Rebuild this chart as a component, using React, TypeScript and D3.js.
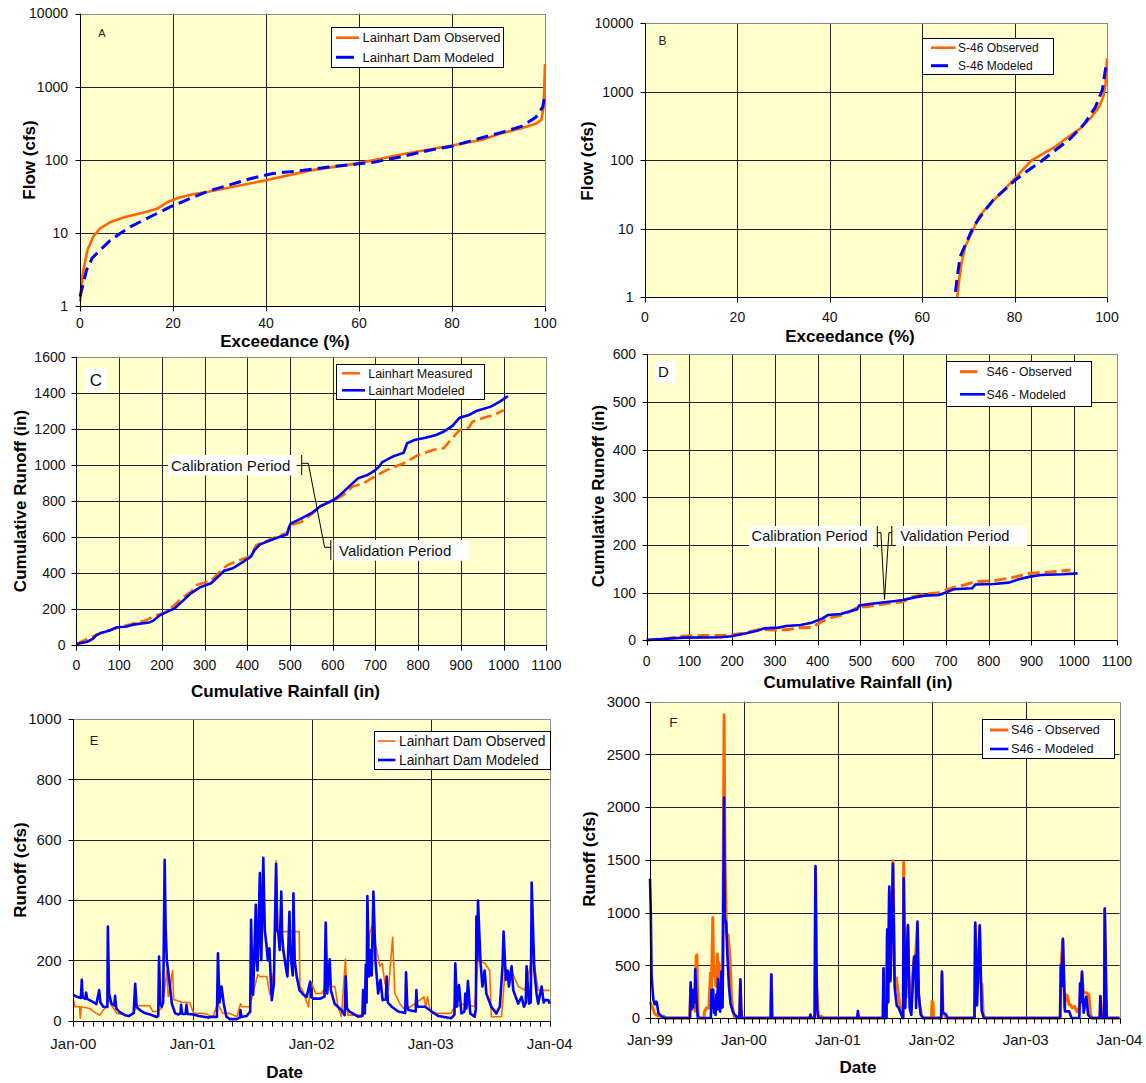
import React from 'react';
import * as d3 from 'd3';

const FONT = "'Liberation Sans', Arial, Helvetica, sans-serif";
const ORANGE = '#FF6600';
const BLUE = '#0000FF';
const BG = '#FFFFCC';
const GRID = '#222222';

type P = [number, number];

// ---------------- tick values ----------------
const exceedTicks = [0, 20, 40, 60, 80, 100];
const flowTicks = [1, 10, 100, 1000, 10000];
const rainTicks = [0, 100, 200, 300, 400, 500, 600, 700, 800, 900, 1000, 1100];
const runoffTicksC = [0, 200, 400, 600, 800, 1000, 1200, 1400, 1600];
const runoffTicksD = [0, 100, 200, 300, 400, 500, 600];
const runoffTicksE = [0, 200, 400, 600, 800, 1000];
const runoffTicksF = [0, 500, 1000, 1500, 2000, 2500, 3000];
const yearsE = [2000, 2001, 2002, 2003, 2004];
const yearsF = [1999, 2000, 2001, 2002, 2003, 2004];

// ---------------- Panel A: Lainhart Dam flow duration (exceedance %, cfs) ----------------
const aObserved: P[] = [[0,1.15],[0.6,2.8],[1.6,5.8],[2.8,8.8],[4.3,11.5],[6.6,14.1],[9.7,16.5],[13.5,18.9],[16.6,21.4],[18.9,26.5],[21.2,30.3],[24.3,33.7],[27.3,36.3],[32.7,42.4],[40,52.3],[49.6,71.6],[60,90],[69.6,120],[80,157],[86.5,188],[90.3,226],[94.9,270],[98,310],[99.2,351],[99.7,522],[100,2040]];
const aModeled: P[] = [[0,1.34],[0.4,1.7],[1.4,3.1],[2.6,4.5],[4.3,5.8],[6.5,7.9],[8.6,9.8],[10.8,12.1],[15.1,16.6],[19.4,22.6],[23.7,29.5],[28,38],[32,45],[36.6,55],[41.2,64.5],[48.1,71.6],[53.5,79.4],[60,88],[63.4,93],[68.8,109],[74.9,134],[80,153],[84.9,188],[90.3,233],[94.9,285],[98,380],[99.5,525],[100,795]];

// ---------------- Panel B: S-46 flow duration ----------------
const bObserved: P[] = [[67.6,1],[68,1.8],[68.5,3.1],[69.3,5.5],[70.7,8.6],[72.3,15],[74.6,23],[77,33],[79.4,49],[81.7,72],[83.7,100],[85.7,120],[88.8,158],[91.2,210],[94.3,293],[96.7,434],[98.3,605],[99.2,850],[99.7,1320],[100,3090]];
const bModeled: P[] = [[67.2,1.2],[67.6,2.0],[68.2,3.9],[69.5,6.2],[71.1,10.8],[73.1,16.8],[75.4,26.4],[77.8,36.9],[80.2,52],[82.5,68],[85.7,96],[88.8,140],[92,205],[95.1,340],[97.5,600],[99,1070],[99.8,2460]];

// ---------------- Panel C: Lainhart cumulative rainfall vs runoff (in) ----------------
const cMeasured: P[] = [[0,7],[60,72],[102,102],[162,137],[179,159],[213,187],[247,261],[268,297],[281,334],[315,358],[332,399],[353,445],[383,473],[408,495],[421,556],[442,575],[476,611],[493,621],[502,667],[527,685],[553,732],[570,772],[604,805],[625,833],[646,880],[672,898],[698,935],[719,963],[740,985],[766,1009],[800,1055],[834,1083],[859,1092],[876,1138],[897,1194],[919,1208],[927,1240],[961,1267],[978,1277],[1000,1304]];
const cModeled: P[] = [[0,7],[25.5,20],[38,35],[47,57],[60,70],[81,85],[94,100],[115,103],[136,116],[170,126],[179,135],[196,168],[213,187],[230,205],[247,242],[268,288],[289,321],[315,344],[332,381],[345,412],[366,427],[391,464],[408,491],[417,528],[430,560],[451,580],[476,602],[493,615],[498,658],[502,676],[527,704],[553,737],[570,769],[604,809],[617,833],[638,880],[659,926],[681,944],[698,968],[710,994],[715,1014],[740,1046],[766,1068],[774,1120],[791,1138],[817,1151],[842,1166],[859,1184],[880,1216],[897,1262],[919,1277],[936,1299],[970,1323],[991,1351],[1010,1382]];

// ---------------- Panel D: S46 cumulative rainfall vs runoff (in) ----------------
const dObserved: P[] = [[0,0.7],[45,3.5],[88,9],[130,10],[190,10],[233,16],[267,23],[292,21.7],[326,22],[360,26.5],[386,27],[411,40],[424,46],[458,53],[475,60],[497,70.6],[514,70.6],[540,74],[565,77.6],[599,81],[624,91.6],[650,97],[684,100],[710,109],[735,114],[769,123],[812,125],[855,131.5],[897,140.5],[940,142.7],[991,147.5]];
const dModeled: P[] = [[0,0.7],[36.6,2.8],[88,5.6],[173,6.3],[198,8.4],[233,14.7],[258,20],[275,25],[309,26.6],[326,30],[360,32],[386,37],[411,46],[424,53],[454,55],[480,62],[492,65],[497,73],[522,76],[556,80],[582,82.5],[599,84.6],[624,89.5],[650,93.7],[684,95],[701,100.7],[718,107],[761,109],[769,117],[812,118],[846,121],[871,128],[897,133.6],[922,137],[974,138.5],[1008,140.5]];

// ---------------- Panel E: Lainhart Dam daily runoff (month index from Jan-00, cfs) ----------------
const eObserved: P[] = [[0,70],[0.17,46],[0.61,46],[0.7,8],[0.78,46],[1.68,40],[2.35,24],[2.69,18],[3.03,35],[3.36,46],[3.6,70],[3.87,50],[4.4,24],[5.2,20],[5.6,15],[6.1,24],[6.4,49],[7.2,50],[7.7,49],[8.0,30],[8.4,30],[8.9,40],[9.2,100],[9.42,166],[9.55,80],[9.7,100],[9.98,166],[10.1,70],[10.25,68],[11.0,60],[11.7,60],[12.1,24],[13.1,24],[14.1,13],[14.6,60],[14.8,40],[15.1,24],[15.8,24],[16.5,13],[16.86,56],[17.0,46],[17.8,46],[18.2,100],[18.6,153],[18.8,146],[19.5,146],[19.8,86],[20.2,166],[20.43,530],[20.6,290],[20.9,295],[22.5,295],[22.76,295],[22.83,113],[23.1,100],[23.68,46],[23.9,125],[24.0,125],[24.4,90],[25.0,90],[25.4,113],[26.4,113],[26.7,46],[27.04,13],[27.45,203],[27.65,46],[27.7,18],[29.2,18],[29.56,166],[29.9,290],[30.23,320],[30.47,256],[30.9,180],[31.14,190],[31.41,123],[31.75,101],[32.18,276],[32.4,90],[32.92,56],[33.43,35],[34.43,56],[35.34,79],[35.5,46],[35.68,79],[35.94,35],[36.1,24],[38.1,24],[38.46,46],[39.47,56],[40.48,46],[40.81,200],[41.49,190],[42.0,166],[42.16,13],[43.17,13],[43.5,153],[44.17,166],[44.85,113],[45.5,101],[46.19,200],[46.5,180],[46.86,101],[48,100]];
const eModeled: P[] = [[0,85],[0.4,78],[0.75,75],[0.84,135],[0.92,78],[1.2,72],[1.28,93],[1.4,72],[2.0,62],[2.35,55],[2.62,101],[2.75,60],[3.03,46],[3.45,45],[3.5,312],[3.62,90],[3.87,56],[4.15,50],[4.23,82],[4.35,40],[4.7,28],[5.21,18],[5.6,15],[6.1,25],[6.25,122],[6.4,45],[6.72,35],[7.2,25],[7.73,20],[8.4,12],[8.55,15],[8.63,212],[8.75,60],[8.9,46],[9.05,60],[9.2,533],[9.3,300],[9.41,201],[9.67,130],[9.91,56],[10.25,24],[10.6,20],[10.8,25],[10.85,52],[10.95,22],[11.3,22],[11.39,52],[11.5,22],[12.09,20],[12.6,15],[13.1,13],[13.6,10],[14.1,13],[14.5,12],[14.6,223],[14.75,60],[14.95,113],[15.18,56],[15.45,13],[15.8,5],[16.46,5],[16.8,10],[16.86,35],[16.95,12],[17.47,15],[17.85,30],[17.94,334],[18.05,150],[18.14,86],[18.41,384],[18.5,200],[18.58,166],[18.81,489],[18.9,250],[18.95,200],[19.15,540],[19.3,300],[19.48,245],[19.6,200],[19.75,240],[19.99,68],[20.2,120],[20.43,520],[20.55,300],[20.66,289],[20.8,234],[20.96,428],[21.05,280],[21.16,234],[21.4,180],[21.57,146],[21.77,361],[21.85,250],[21.94,200],[22.1,150],[22.17,422],[22.3,200],[22.5,146],[22.8,100],[23.18,86],[23.5,78],[23.85,129],[23.95,78],[24.19,73],[24.86,73],[25.3,80],[25.43,325],[25.6,90],[25.87,203],[26.0,100],[26.37,56],[27.04,35],[27.38,18],[27.48,146],[27.6,40],[27.88,30],[28.72,13],[29.15,15],[29.23,101],[29.4,24],[29.5,186],[29.58,60],[29.66,413],[29.83,146],[30.0,234],[30.1,150],[30.27,428],[30.47,200],[30.74,90],[30.97,135],[31.18,68],[31.5,70],[31.58,146],[31.7,60],[32.08,46],[32.75,30],[33.45,25],[33.53,160],[33.65,50],[33.76,35],[34.5,30],[34.57,101],[34.65,50],[34.77,46],[35.44,46],[36.11,30],[36.78,15],[38.13,8],[38.45,20],[38.53,190],[38.7,46],[38.9,118],[39.14,24],[39.45,30],[39.54,90],[39.65,40],[39.81,131],[40.04,24],[40.48,13],[40.6,40],[40.65,345],[40.75,200],[40.81,398],[41.05,200],[41.25,113],[41.49,166],[41.65,90],[42.16,46],[42.66,24],[43.0,46],[43.27,180],[43.37,295],[43.6,135],[43.77,166],[43.9,113],[44.17,180],[44.34,101],[44.85,56],[45.18,79],[45.42,46],[45.6,60],[45.68,180],[45.92,56],[46.1,60],[46.19,458],[46.46,166],[46.69,90],[46.86,56],[47.2,113],[47.4,60],[47.53,68],[47.87,68],[48,56]];

// ---------------- Panel F: S46 daily runoff (month index from Jan-99, cfs) ----------------
const fObserved: P[] = [[0,150],[0.3,100],[0.6,40],[1.0,20],[1.8,16],[2.0,0],[5.1,0],[5.25,300],[5.4,100],[5.66,200],[5.8,63],[5.95,590],[6.04,598],[6.12,300],[6.2,30],[6.3,0],[6.9,0],[7.0,60],[7.24,95],[7.55,95],[7.74,425],[7.85,200],[8.04,952],[8.15,400],[8.3,486],[8.45,300],[8.64,606],[8.75,350],[8.85,520],[9.06,95],[9.3,200],[9.49,2875],[9.6,1500],[9.8,800],[10.0,788],[10.25,550],[10.45,171],[10.65,63],[10.85,0],[11.45,0],[11.57,350],[11.7,0],[15.45,0],[15.53,400],[15.65,0],[21.05,0],[21.15,1420],[21.3,300],[21.5,20],[21.9,16],[22.1,0],[29.8,0],[29.87,460],[29.97,0],[30.25,0],[30.34,800],[30.45,150],[30.6,1200],[30.75,400],[31.06,1490],[31.27,379],[31.49,379],[31.7,252],[31.91,126],[32.2,40],[32.35,0],[32.42,1480],[32.6,400],[32.76,300],[32.97,850],[33.1,200],[33.32,190],[33.74,560],[33.9,560],[34.17,880],[34.3,250],[34.46,126],[34.68,32],[34.9,0],[35.95,0],[36.04,160],[36.15,150],[36.22,0],[37.2,0],[37.3,420],[37.45,60],[37.9,0],[41.5,0],[41.6,880],[41.75,150],[42.17,860],[42.3,330],[42.45,320],[42.6,50],[42.75,0],[52.45,0],[52.55,480],[52.8,740],[53.0,100],[53.2,221],[53.4,205],[53.6,126],[53.8,126],[54.0,95],[54.3,110],[54.6,60],[54.9,95],[55.23,420],[55.4,240],[55.78,240],[56.1,220],[56.3,50],[56.45,0],[57.5,0],[57.57,200],[57.7,0],[58.05,0],[58.12,1020],[58.3,0],[60,0]];
const fModeled: P[] = [[0,1320],[0.1,1000],[0.2,400],[0.42,171],[0.6,130],[0.77,155],[0.85,150],[1.06,47],[1.49,16],[1.91,0],[5.15,0],[5.23,339],[5.35,80],[5.45,266],[5.55,100],[5.66,270],[5.75,150],[5.83,461],[5.95,250],[6.05,100],[6.17,0],[7.8,0],[7.87,266],[7.95,100],[8.09,270],[8.2,50],[8.3,140],[8.4,30],[8.51,225],[8.6,80],[8.72,370],[8.85,95],[9.0,60],[9.15,440],[9.3,100],[9.49,2090],[9.58,950],[9.75,900],[9.9,600],[10.1,300],[10.3,140],[10.6,60],[10.85,30],[11.3,0],[11.45,0],[11.57,367],[11.65,100],[11.75,0],[15.45,0],[15.53,414],[15.62,0],[20.4,0],[20.5,32],[20.6,0],[21.05,0],[21.15,1440],[21.25,600],[21.35,95],[21.5,0],[26.5,0],[26.6,65],[26.7,0],[29.8,0],[29.87,471],[29.95,0],[30.25,0],[30.34,841],[30.45,150],[30.6,1246],[30.75,350],[31.06,1461],[31.27,297],[31.53,120],[31.78,95],[32.12,30],[32.3,0],[32.35,0],[32.42,1325],[32.63,95],[32.97,882],[33.19,95],[33.4,30],[33.74,582],[33.91,590],[34.0,95],[34.17,914],[34.34,221],[34.59,32],[34.89,0],[37.2,0],[37.3,440],[37.42,47],[37.57,47],[37.87,32],[38.08,0],[41.5,0],[41.6,905],[41.83,120],[42.17,880],[42.42,70],[42.68,0],[52.45,0],[52.55,503],[52.65,300],[52.8,752],[53.06,63],[53.61,63],[53.91,0],[54.9,0],[54.98,329],[55.1,150],[55.23,440],[55.44,50],[55.78,203],[56.0,30],[56.38,0],[57.5,0],[57.57,209],[57.7,0],[58.05,0],[58.12,1041],[58.38,0],[60,0]];

// ---------------- helpers ----------------
const mDate = (y0: number, m: number) => {
  const mi = Math.floor(m);
  const a = new Date(y0, mi, 1).getTime();
  const b = new Date(y0, mi + 1, 1).getTime();
  return new Date(a + (m - mi) * (b - a));
};
const cr = (v: number) => Math.round(v) + 0.5;

interface FrameProps {
  x0: number; x1: number; yb: number; yt: number;
  vLines: number[]; hLines: number[];
  xLabels: { p: number; t: string }[];
  yLabels: { p: number; t: string }[];
  xLabelY: number; yLabelX: number; fs: number;
  minorX?: number[];
  children?: React.ReactNode;
}

function Frame(p: FrameProps) {
  const { x0, x1, yb, yt } = p;
  return (
    <g>
      <rect x={x0} y={yt} width={x1 - x0} height={yb - yt} fill={BG} />
      {p.vLines.map((v, i) => (
        <line key={'v' + i} x1={cr(v)} x2={cr(v)} y1={yt} y2={yb} stroke={GRID} strokeWidth={1} />
      ))}
      {p.hLines.map((v, i) => (
        <line key={'h' + i} x1={x0} x2={x1} y1={cr(v)} y2={cr(v)} stroke={GRID} strokeWidth={1} />
      ))}
      <rect x={cr(x0)} y={cr(yt)} width={Math.round(x1) - Math.round(x0)} height={Math.round(yb) - Math.round(yt)} fill="none" stroke="#8a8a8a" strokeWidth={1} />
      {p.children}
      <line x1={cr(x0)} x2={cr(x0)} y1={yt} y2={yb + 0.5} stroke="#000" strokeWidth={1} />
      <line x1={x0} x2={x1} y1={cr(yb)} y2={cr(yb)} stroke="#000" strokeWidth={1} />
      {p.yLabels.map((l, i) => (
        <g key={'yl' + i}>
          <line x1={cr(x0) - 5} x2={cr(x0)} y1={cr(l.p)} y2={cr(l.p)} stroke="#000" strokeWidth={1} />
          <text x={p.yLabelX} y={l.p} dy="0.35em" textAnchor="end" fontSize={p.fs} fill="#111">{l.t}</text>
        </g>
      ))}
      {(p.minorX || []).map((v, i) => (
        <line key={'mx' + i} x1={cr(v)} x2={cr(v)} y1={cr(yb)} y2={cr(yb) + 5} stroke="#000" strokeWidth={1} />
      ))}
      {p.xLabels.map((l, i) => (
        <g key={'xl' + i}>
          <line x1={cr(l.p)} x2={cr(l.p)} y1={cr(yb)} y2={cr(yb) + 5} stroke="#000" strokeWidth={1} />
          <text x={l.p} y={p.xLabelY} dy="0.35em" textAnchor="middle" fontSize={p.fs} fill="#111">{l.t}</text>
        </g>
      ))}
    </g>
  );
}

interface LegendItem { label: string; color: string; width: number; y: number; x1: number; x2: number; dash?: string }
function Legend(p: { x: number; y: number; w: number; h: number; fs: number; textX: number; items: LegendItem[] }) {
  return (
    <g>
      <rect x={cr(p.x)} y={cr(p.y)} width={Math.round(p.w)} height={Math.round(p.h)} fill="#fff" stroke="#000" strokeWidth={1} />
      {p.items.map((it, i) => (
        <g key={i}>
          <line x1={it.x1} x2={it.x2} y1={it.y} y2={it.y} stroke={it.color} strokeWidth={it.width} strokeDasharray={it.dash} />
          <text x={p.textX} y={it.y} dy="0.35em" fontSize={p.fs} fill="#111">{it.label}</text>
        </g>
      ))}
    </g>
  );
}

function Title(p: { x: number; y: number; t: string; rot?: boolean }) {
  return p.rot ? (
    <text transform={`translate(${p.x},${p.y}) rotate(-90)`} textAnchor="middle" dy="0.35em" fontSize={17} fontWeight="bold" fill="#000">{p.t}</text>
  ) : (
    <text x={p.x} y={p.y} textAnchor="middle" dy="0.35em" fontSize={17} fontWeight="bold" fill="#000">{p.t}</text>
  );
}

const fmtMon = d3.timeFormat('%b-%y');

export default function App() {
  // ---- scales ----
  const axA = d3.scaleLinear().domain([0, 100]).range([80, 545]);
  const ayA = d3.scaleLog().domain([1, 10000]).range([306, 13.5]);
  const axB = d3.scaleLinear().domain([0, 100]).range([645, 1107]);
  const ayB = d3.scaleLog().domain([1, 10000]).range([297.3, 23.3]);
  const axC = d3.scaleLinear().domain([0, 1100]).range([76.4, 546.4]);
  const ayC = d3.scaleLinear().domain([0, 1600]).range([645.3, 356.7]);
  const axD = d3.scaleLinear().domain([0, 1100]).range([646.7, 1116.9]);
  const ayD = d3.scaleLinear().domain([0, 600]).range([640.3, 354.3]);
  const axE = d3.scaleTime().domain([new Date(2000, 0, 1), new Date(2004, 0, 1)]).range([73.3, 549.7]);
  const ayE = d3.scaleLinear().domain([0, 1000]).range([1020.6, 719]);
  const axF = d3.scaleTime().domain([new Date(1999, 0, 1), new Date(2004, 0, 1)]).range([650, 1119.5]);
  const ayF = d3.scaleLinear().domain([0, 3000]).range([1018, 701.6]);

  const lin = (xs: (v: number) => number, ys: (v: number) => number) =>
    d3.line<P>().x(d => xs(d[0])).y(d => ys(d[1]));
  const tline = (y0: number, xs: d3.ScaleTime<number, number>, ys: (v: number) => number) =>
    d3.line<P>().x(d => xs(mDate(y0, d[0]))).y(d => ys(d[1]));

  const monthsE = d3.timeMonth.range(new Date(2000, 0, 1), new Date(2004, 0, 2)).map(d => axE(d));
  const monthsF = d3.timeMonth.range(new Date(1999, 0, 1), new Date(2004, 0, 2)).map(d => axF(d));

  const inner = (arr: number[]) => arr.slice(1, arr.length - 1);

  return (
    <svg width={1146} height={1083} style={{ position: 'absolute', left: 0, top: 0, background: '#fff' }} fontFamily={FONT}>
      {/* ============ Panel A ============ */}
      <Frame x0={80} x1={545} yb={306} yt={13.5}
        vLines={inner(exceedTicks).map(v => axA(v))} hLines={inner(flowTicks).map(v => ayA(v))}
        xLabels={exceedTicks.map(v => ({ p: axA(v), t: String(v) }))}
        yLabels={flowTicks.map(v => ({ p: ayA(v), t: String(v) }))}
        xLabelY={323.5} yLabelX={68} fs={14}>
        <path d={lin(axA, ayA)(aObserved) || ''} fill="none" stroke={ORANGE} strokeWidth={2.6} />
        <path d={lin(axA, ayA)(aModeled) || ''} fill="none" stroke={BLUE} strokeWidth={3} strokeDasharray="12,6" />
      </Frame>
      <text x={102} y={33} dy="0.35em" textAnchor="middle" fontSize={11} fill="#222">A</text>
      <Legend x={331} y={27.3} w={172} h={40} fs={13} textX={362.5}
        items={[
          { label: 'Lainhart Dam Observed', color: ORANGE, width: 2.6, y: 37.7, x1: 336, x2: 359 },
          { label: 'Lainhart Dam Modeled', color: BLUE, width: 3, y: 57.3, x1: 336, x2: 354 },
        ]} />
      <Title x={29} y={160} t="Flow (cfs)" rot />
      <Title x={285} y={341} t="Exceedance (%)" />

      {/* ============ Panel B ============ */}
      <Frame x0={645} x1={1107} yb={297.3} yt={23.3}
        vLines={inner(exceedTicks).map(v => axB(v))} hLines={inner(flowTicks).map(v => ayB(v))}
        xLabels={exceedTicks.map(v => ({ p: axB(v), t: String(v) }))}
        yLabels={flowTicks.map(v => ({ p: ayB(v), t: String(v) }))}
        xLabelY={317.5} yLabelX={633.5} fs={14}>
        <path d={lin(axB, ayB)(bObserved) || ''} fill="none" stroke={ORANGE} strokeWidth={2.6} />
        <path d={lin(axB, ayB)(bModeled) || ''} fill="none" stroke={BLUE} strokeWidth={3} strokeDasharray="12,6" />
      </Frame>
      <text x={662.5} y={41} dy="0.35em" textAnchor="middle" fontSize={12} fill="#222">B</text>
      <Legend x={922} y={38.3} w={131} h={36} fs={12} textX={958}
        items={[
          { label: 'S-46 Observed', color: ORANGE, width: 2.6, y: 47.7, x1: 931, x2: 955.5 },
          { label: 'S-46 Modeled', color: BLUE, width: 3, y: 65.7, x1: 931, x2: 948 },
        ]} />
      <Title x={587} y={161} t="Flow (cfs)" rot />
      <Title x={850} y={336} t="Exceedance (%)" />

      {/* ============ Panel C ============ */}
      <Frame x0={76.4} x1={546.4} yb={645.3} yt={356.7}
        vLines={inner(rainTicks).map(v => axC(v))} hLines={inner(runoffTicksC).map(v => ayC(v))}
        xLabels={rainTicks.map(v => ({ p: axC(v), t: String(v) }))}
        yLabels={runoffTicksC.map(v => ({ p: ayC(v), t: String(v) }))}
        xLabelY={665} yLabelX={65.5} fs={14}>
        <path d={lin(axC, ayC)(cMeasured) || ''} fill="none" stroke={ORANGE} strokeWidth={2.6} strokeDasharray="12,5" />
        <path d={lin(axC, ayC)(cModeled) || ''} fill="none" stroke={BLUE} strokeWidth={2.6} />
      </Frame>
      <rect x={86} y={368.3} width={20.5} height={23.4} fill="#fff" />
      <text x={96} y={380} dy="0.35em" textAnchor="middle" fontSize={17} fill="#111">C</text>
      <Legend x={335.5} y={364.3} w={147.5} h={35} fs={12.5} textX={368.2}
        items={[
          { label: 'Lainhart Measured', color: ORANGE, width: 2.6, y: 373.3, x1: 342, x2: 360 },
          { label: 'Lainhart Modeled', color: BLUE, width: 2.6, y: 390.3, x1: 342, x2: 365 },
        ]} />
      {/* annotations C */}
      <rect x={168} y={455} width={128.6} height={20.5} fill="#fff" />
      <text x={171} y={465.5} dy="0.35em" fontSize={15} fill="#111">Calibration Period</text>
      <line x1={301.7} x2={301.7} y1={455} y2={475} stroke="#000" strokeWidth={1} />
      <polyline points="301.7,463.3 308.3,463.3 324.6,547.3 330.8,547.3" fill="none" stroke="#000" strokeWidth={1} />
      <line x1={330.8} x2={330.8} y1={540} y2={560} stroke="#000" strokeWidth={1} />
      <rect x={333.7} y={540} width={136} height={20.7} fill="#fff" />
      <text x={339} y={550.5} dy="0.35em" fontSize={15} fill="#111">Validation Period</text>
      <Title x={20} y={501} t="Cumulative Runoff (in)" rot />
      <Title x={285.5} y={691.5} t="Cumulative Rainfall (in)" />

      {/* ============ Panel D ============ */}
      <Frame x0={646.7} x1={1116.9} yb={640.3} yt={354.3}
        vLines={inner(rainTicks).map(v => axD(v))} hLines={inner(runoffTicksD).map(v => ayD(v))}
        xLabels={rainTicks.map(v => ({ p: axD(v), t: String(v) }))}
        yLabels={runoffTicksD.map(v => ({ p: ayD(v), t: String(v) }))}
        xLabelY={660.7} yLabelX={636} fs={14}>
        <path d={lin(axD, ayD)(dObserved) || ''} fill="none" stroke={ORANGE} strokeWidth={3} strokeDasharray="12,5" />
        <path d={lin(axD, ayD)(dModeled) || ''} fill="none" stroke={BLUE} strokeWidth={2.6} />
      </Frame>
      <rect x={655} y={360.7} width={20} height={22} fill="#fff" />
      <text x={663.5} y={371.7} dy="0.35em" textAnchor="middle" fontSize={15} fill="#111">D</text>
      <Legend x={945.7} y={360.7} w={145} h={44.6} fs={12.2} textX={986.5}
        items={[
          { label: 'S46 - Observed', color: ORANGE, width: 3, y: 371.7, x1: 960, x2: 977.4 },
          { label: 'S46 - Modeled', color: BLUE, width: 2.6, y: 394.3, x1: 960, x2: 985 },
        ]} />
      <rect x={749} y={526} width={124} height={21.3} fill="#fff" />
      <text x={751.6} y={535.5} dy="0.35em" fontSize={14.6} fill="#111">Calibration Period</text>
      <line x1={877.3} x2={877.3} y1={526} y2={547.3} stroke="#000" strokeWidth={1} />
      <polyline points="877.3,532.7 880.9,532.7 884.5,599.3 888.9,532.7 891.8,532.7" fill="none" stroke="#000" strokeWidth={1} />
      <line x1={891.8} x2={891.8} y1={526} y2={545} stroke="#000" strokeWidth={1} />
      <rect x={896.2} y={526} width={131} height={20} fill="#fff" />
      <text x={900.2} y={535.5} dy="0.35em" fontSize={14.6} fill="#111">Validation Period</text>
      <Title x={598.5} y={496} t="Cumulative Runoff (in)" rot />
      <Title x={858} y={681.7} t="Cumulative Rainfall (in)" />

      {/* ============ Panel E ============ */}
      <Frame x0={73.3} x1={549.7} yb={1020.6} yt={719}
        vLines={inner(yearsE).map(y => axE(new Date(y, 0, 1)))} hLines={inner(runoffTicksE).map(v => ayE(v))}
        xLabels={yearsE.map(y => ({ p: axE(new Date(y, 0, 1)), t: fmtMon(new Date(y, 0, 1)) }))}
        yLabels={runoffTicksE.map(v => ({ p: ayE(v), t: String(v) }))}
        xLabelY={1044} yLabelX={61.5} fs={15} minorX={monthsE}>
        <path d={tline(2000, axE, ayE)(eObserved) || ''} fill="none" stroke={ORANGE} strokeWidth={1.6} strokeLinejoin="round" />
        <path d={tline(2000, axE, ayE)(eModeled) || ''} fill="none" stroke={BLUE} strokeWidth={2.6} strokeLinejoin="round" />
      </Frame>
      <text x={94} y={740.3} dy="0.35em" textAnchor="middle" fontSize={13} fill="#222">E</text>
      <Legend x={374.4} y={731} w={175.6} h={38} fs={13.8} textX={399}
        items={[
          { label: 'Lainhart Dam Observed', color: ORANGE, width: 1.6, y: 741, x1: 378, x2: 395.5 },
          { label: 'Lainhart Dam Modeled', color: BLUE, width: 2.6, y: 760, x1: 378, x2: 395.5 },
        ]} />
      <Title x={20} y={870} t="Runoff (cfs)" rot />
      <Title x={284.6} y={1071.7} t="Date" />

      {/* ============ Panel F ============ */}
      <Frame x0={650} x1={1119.5} yb={1018} yt={701.6}
        vLines={inner(yearsF).map(y => axF(new Date(y, 0, 1)))} hLines={inner(runoffTicksF).map(v => ayF(v))}
        xLabels={yearsF.map(y => ({ p: axF(new Date(y, 0, 1)), t: fmtMon(new Date(y, 0, 1)) }))}
        yLabels={runoffTicksF.map(v => ({ p: ayF(v), t: String(v) }))}
        xLabelY={1039.3} yLabelX={640} fs={15} minorX={monthsF}>
        <path d={tline(1999, axF, ayF)(fObserved) || ''} fill="none" stroke={ORANGE} strokeWidth={3} strokeLinejoin="round" />
        <path d={tline(1999, axF, ayF)(fModeled) || ''} fill="none" stroke={BLUE} strokeWidth={2.6} strokeLinejoin="round" />
      </Frame>
      <text x={673.3} y={722.3} dy="0.35em" textAnchor="middle" fontSize={13.5} fill="#222">F</text>
      <Legend x={981.8} y={719.3} w={132.2} h={39} fs={12.7} textX={1011}
        items={[
          { label: 'S46 - Observed', color: ORANGE, width: 3, y: 730, x1: 990, x2: 1008.4 },
          { label: 'S46 - Modeled', color: BLUE, width: 2.6, y: 749, x1: 990, x2: 1008.4 },
        ]} />
      <Title x={589} y={859} t="Runoff (cfs)" rot />
      <Title x={858} y={1066.7} t="Date" />
    </svg>
  );
}
